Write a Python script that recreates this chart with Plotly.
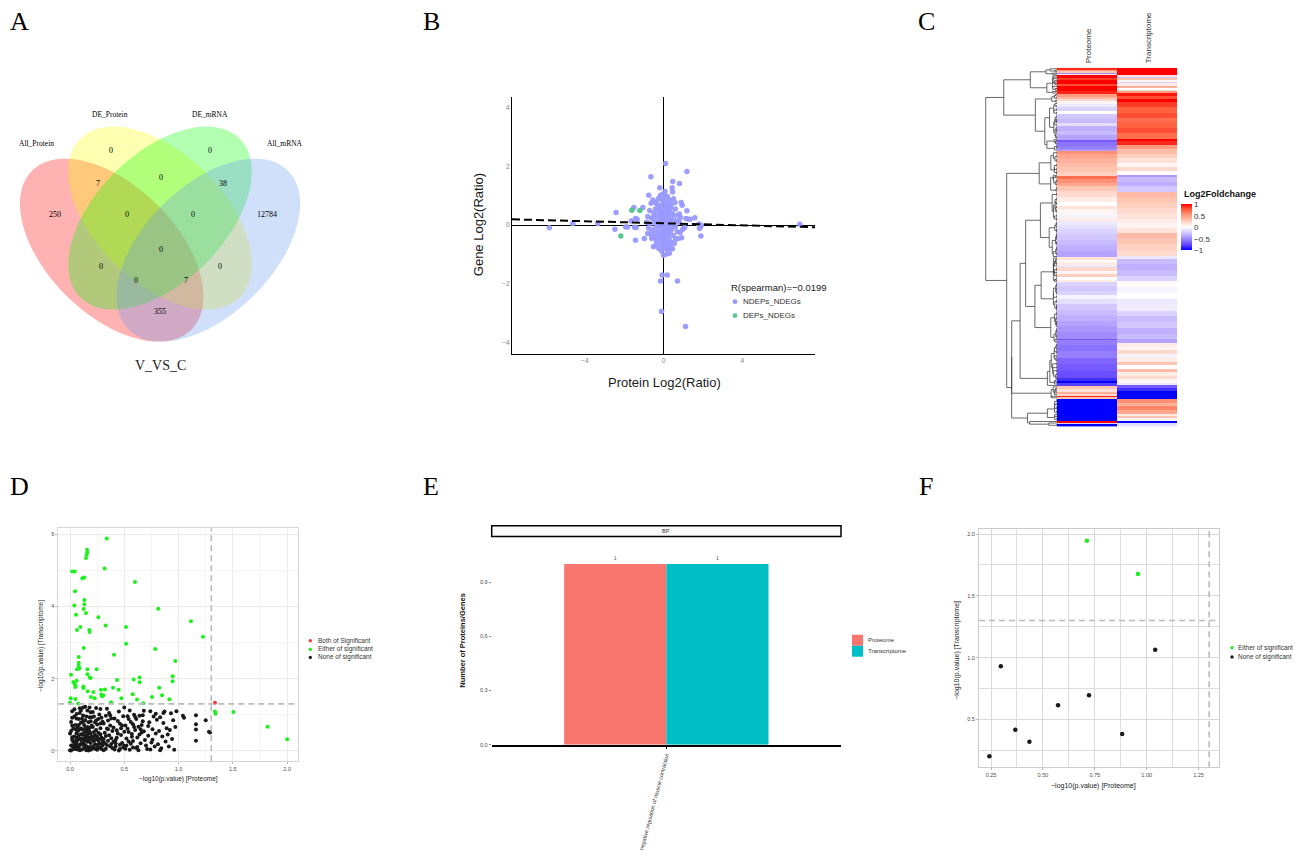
import numpy as np
import plotly.graph_objects as go

W, H = 1300, 861
SANS = "Liberation Sans, Arial, sans-serif"
SERIF = "Liberation Serif, Times New Roman, serif"


def PX(x):
    return x / W


def PY(y):
    return 1 - y / H


# ======================= DATA =======================
# ---- Panel A : Venn ----
venn_set_names = ["All_Protein", "DE_Protein", "DE_mRNA", "All_mRNA"]
venn_region_keys = ["P", "dP", "dM", "M", "P_dP", "dP_dM", "dM_M", "P_dP_dM", "dP_dM_M",
                    "P_dP_dM_M", "P_dM", "dP_M", "P_dM_M", "P_dP_M", "P_M"]
venn_region_counts = [250, 0, 0, 12784, 7, 0, 38, 0, 0, 0, 0, 0, 0, 7, 355]
venn_title = "V_VS_C"

# ---- Panel B : protein vs gene log2 ratio ----
b_ndep_points = [
    (0.10, 2.10), (1.19, 1.83), (-0.64, 1.65), (0.47, 1.49), (0.81, 1.42), (-0.19, 1.27), (0.44, 1.27),
    (0.46, 1.13), (-0.75, 1.02), (-0.15, 1.02), (-0.20, 0.94), (-0.54, 0.86), (-0.44, 0.79), (-0.63, 0.75),
    (0.51, 0.90), (0.58, 0.77), (0.90, 0.77), (0.95, 0.68), (-1.51, 0.60), (-1.05, 0.60), (-2.41, 0.43),
    (1.19, 0.49), (1.59, 0.25), (1.14, 0.23), (1.22, 0.21), (0.81, 0.38), (0.86, 0.26), (1.80, 0.03),
    (1.92, 0.00), (-1.42, 0.23), (-1.34, 0.20), (-1.64, 0.14), (-1.83, -0.06), (-1.92, -0.06), (-2.47, -0.14),
    (-1.47, -0.07), (-1.39, -0.08), (1.83, -0.11), (1.90, -0.37), (0.98, -0.14), (1.08, -0.08), (0.92, -0.43),
    (0.75, -0.45), (-0.97, -0.45), (-1.42, -0.51), (-0.56, -0.39), (-0.46, -0.42), (0.29, -0.59), (0.36, -0.76),
    (-0.51, -0.73), (-0.24, -0.79), (0.24, -0.86), (0.17, -0.98), (0.00, -1.02), (-0.07, -1.69), (0.19, -1.69),
    (-5.80, -0.09), (-4.61, 0.06), (-3.34, 0.06), (-0.15, -1.90), (0.71, -1.90), (-0.10, -2.93), (1.12, -3.44),
    (6.93, 0.03), (1.88, -0.06), (1.81, 0.03), (1.35, 0.20),
    (-0.05, 0.85), (0.05, 0.80), (0.15, 0.72), (-0.12, 0.68), (0.25, 0.65), (-0.30, 0.62), (0.35, 0.58),
    (-0.40, 0.55), (0.02, 0.55), (0.12, 0.50), (-0.22, 0.48), (0.30, 0.45), (-0.50, 0.42), (0.45, 0.40),
    (-0.08, 0.40), (0.18, 0.36), (-0.35, 0.34), (0.55, 0.32), (0.08, 0.30), (-0.15, 0.28), (0.28, 0.25),
    (-0.60, 0.24), (0.40, 0.20), (-0.02, 0.20), (-0.28, 0.17), (0.65, 0.15), (0.15, 0.14), (-0.45, 0.10),
    (0.50, 0.08), (-0.10, 0.08), (0.22, 0.05), (-0.70, 0.04), (0.35, 0.00), (-0.20, -0.02), (0.05, -0.03),
    (0.60, -0.05), (-0.38, -0.06), (0.12, -0.10), (-0.05, -0.12), (0.42, -0.14), (-0.55, -0.16), (0.25, -0.18),
    (-0.25, -0.20), (0.70, -0.22), (0.02, -0.24), (-0.42, -0.26), (0.35, -0.28), (-0.12, -0.30), (0.15, -0.33),
    (-0.65, -0.30), (0.50, -0.36), (-0.30, -0.38), (0.05, -0.40), (0.28, -0.44), (-0.18, -0.46), (0.62, -0.48),
    (-0.05, -0.52), (0.18, -0.55), (-0.35, -0.55), (0.40, -0.58), (0.08, -0.62), (-0.15, -0.65), (0.25, -0.68),
    (-0.02, -0.72), (0.12, -0.80), (-0.10, -0.88), (0.10, 0.95), (-0.02, 1.05), (0.08, 1.15), (-0.25, 0.90),
    (0.30, 0.85), (0.20, 0.98), (-0.35, 0.75), (0.40, 0.70), (-0.70, 0.50), (0.60, 0.55), (-0.80, 0.30),
    (0.75, 0.35), (-0.85, 0.10), (0.80, 0.10), (-0.75, -0.10), (0.85, -0.25), (-0.80, -0.28), (-0.60, -0.45),
    (0.55, -0.62), (-0.40, -0.70), (0.45, -0.80), (0.30, -0.95), (-0.20, 0.58), (0.00, 0.35), (-0.32, 0.05),
    (0.10, 0.60), (-0.12, 0.15), (0.32, 0.12), (-0.08, -0.35), (0.20, -0.25), (-0.48, 0.28), (0.38, -0.05),
    (0.00, 0.00), (-0.18, 0.38), (0.22, 0.42), (0.03, -0.58),
]
b_dep_points = [(-1.61, 0.51), (-1.20, 0.50), (-2.17, -0.37)]
b_fit_intercept = 0.065
b_fit_slope = -0.0175
b_spearman_text = "R(spearman)=\u22120.0199"
b_series_names = ["NDEPs_NDEGs", "DEPs_NDEGs"]

# ---- Panel C : heatmap run-lengths (rows, log2FC) in clustered order ----
c_columns = ["Proteome", "Transcriptome"]
c_proteome_runs = [
    (2, 0.9), (1, 0.5), (2, 0.3), (1, -0.5), (1, 0.1),
    (3, 1.0), (2, 0.85), (4, 1.0), (2, 0.8), (5, 1.0), (3, 0.9),
    (3, 0.5), (3, 0.35), (2, 0.2),
    (3, 0.05), (3, -0.1), (4, -0.2), (3, 0.0), (5, -0.25), (4, -0.3), (3, -0.15), (5, -0.35), (4, -0.3), (5, -0.4),
    (2, -0.7), (4, -0.6), (3, -0.55), (2, -0.45),
    (3, 0.55), (4, 0.45), (5, 0.4), (4, 0.35), (5, 0.3), (4, 0.25),
    (3, 0.7), (4, 0.55), (3, 0.45),
    (5, 0.3), (6, 0.2), (5, 0.1), (4, 0.0), (3, 0.15), (5, 0.05), (4, -0.05), (4, 0.1), (4, -0.1),
    (4, -0.15), (5, -0.2), (6, -0.25), (5, -0.3), (6, -0.35), (6, -0.4),
    (3, 0.15), (2, 0.0), (3, 0.1), (2, -0.1), (4, 0.2), (3, 0.05), (3, 0.25), (3, 0.0), (2, 0.1),
    (4, -0.2), (5, -0.25), (4, -0.2),
    (4, -0.05), (5, -0.15), (6, -0.25), (5, -0.3), (6, -0.35), (5, -0.4), (6, -0.45), (7, -0.5),
    (2, -0.7), (5, -0.55), (6, -0.6), (7, -0.55), (6, -0.65), (7, -0.7), (7, -0.75),
    (3, -0.85), (2, -1.0), (3, -0.8),
    (3, 0.3), (3, 0.15), (2, 0.4), (2, 0.2), (1, 0.9), (2, 0.3),
    (22, -1.0), (2, 1.0), (1, -0.2), (3, -1.0),
]
c_transcriptome_runs = [
    (7, 1.0),
    (2, 0.15), (1, -0.25), (2, 0.3), (2, 0.05), (1, -0.2), (3, 0.1), (2, 0.4), (2, 0.0), (1, 0.2), (2, 0.5),
    (3, 0.95), (4, 0.8), (3, 1.0), (5, 0.85), (6, 0.75), (5, 0.8), (4, 0.7), (6, 0.75), (5, 0.8), (6, 0.7),
    (2, 1.0), (4, 0.9),
    (4, 0.5), (5, 0.35), (4, 0.25), (5, 0.15), (4, 0.05), (4, 0.2), (4, 0.0),
    (2, -0.45), (5, -0.3), (4, -0.35), (6, -0.25),
    (5, 0.35), (6, 0.3), (5, 0.25), (6, 0.2), (5, 0.15), (5, 0.1), (5, 0.05), (5, 0.15),
    (5, 0.35), (6, 0.3), (6, 0.25), (6, 0.2),
    (3, -0.1), (5, -0.3), (6, -0.35), (6, -0.3), (5, -0.2),
    (6, 0.02), (6, -0.05), (6, 0.0), (6, -0.1), (6, -0.08),
    (5, -0.2), (6, -0.3), (6, -0.25), (6, -0.35), (6, -0.3), (4, -0.4),
    (4, 0.1), (3, 0.05), (4, 0.2), (3, -0.05), (5, 0.1), (3, 0.3), (4, 0.0), (3, 0.35), (4, 0.1), (3, 0.2),
    (4, 0.05), (2, -0.1),
    (3, -0.7), (3, -0.85), (8, -1.0),
    (4, 0.55), (3, 0.4), (4, 0.6), (4, 0.45),
    (2, 0.1), (2, 0.3), (3, 0.05),
    (2, -1.0), (4, -0.15),
]
c_legend_title = "Log2Foldchange"

# ---- Panel D : -log10 p values ----
d_both_points = [(1.335, 1.33)]
d_either_points = [
    (0.338, 5.88), (0.157, 5.57), (0.160, 5.50), (0.153, 5.43), (0.147, 5.34), (0.021, 4.97), (0.043, 4.97),
    (0.319, 5.05), (0.113, 4.78), (0.132, 4.80), (0.598, 4.68), (0.046, 4.42), (0.132, 4.18), (0.132, 4.06),
    (0.126, 3.93), (0.040, 4.03), (0.055, 3.77), (0.147, 3.82), (0.813, 3.94), (0.261, 3.70), (1.114, 3.59),
    (0.328, 3.47), (0.516, 3.43), (0.095, 3.43), (0.064, 3.35), (0.178, 3.35), (0.181, 3.29), (1.225, 3.16),
    (0.126, 2.85), (0.516, 2.97), (0.785, 2.82), (0.405, 2.66), (0.080, 2.60), (0.970, 2.49), (0.080, 2.44),
    (0.080, 2.36), (0.064, 2.26), (0.086, 2.28), (0.160, 2.26), (0.245, 2.26), (0.009, 2.11), (0.160, 2.12),
    (0.181, 2.03), (0.190, 2.02), (0.061, 1.94), (0.031, 1.91), (0.043, 1.85), (0.052, 1.80), (0.049, 1.77),
    (0.945, 2.07), (0.945, 1.93), (0.586, 1.98), (0.641, 2.03), (0.641, 1.90), (0.433, 1.96), (0.123, 1.78),
    (0.123, 1.74), (0.822, 1.75), (0.215, 1.63), (0.396, 1.75), (0.448, 1.69), (0.285, 1.69), (0.322, 1.70),
    (0.163, 1.65), (0.288, 1.56), (0.307, 1.54), (0.295, 1.51), (0.577, 1.57), (0.755, 1.49), (0.847, 1.54),
    (0.915, 1.43), (0.617, 1.42), (0.473, 1.46), (0.006, 1.46), (0.049, 1.44), (0.193, 1.49), (0.227, 1.46),
    (0.377, 1.35), (0.675, 1.32), (0.000, 1.33), (0.074, 1.31),
    (1.335, 1.09), (1.340, 1.03), (1.504, 1.08), (1.820, 0.67), (2.000, 0.32),
]
d_none_points = [
    (0.00, 0.02), (0.01, 0.15), (0.02, 0.31), (0.00, 0.48), (0.03, 0.62), (0.01, 0.80), (0.04, 0.95), (0.02, 1.10),
    (0.05, 0.05), (0.06, 0.22), (0.04, 0.40), (0.07, 0.55), (0.05, 0.72), (0.08, 0.88), (0.06, 1.02), (0.09, 1.18),
    (0.08, 0.10), (0.09, 0.33), (0.10, 0.46), (0.07, 0.66), (0.03, 0.25), (0.05, 0.12), (0.02, 0.70), (0.09, 0.02),
    (0.10, 0.78), (0.06, 0.36), (0.08, 0.58), (0.03, 0.05), (0.04, 0.18), (0.07, 0.30), (0.01, 0.55), (0.10, 0.20),
    (0.06, 0.90), (0.09, 1.05), (0.02, 0.92), (0.08, 0.42), (0.05, 0.60), (0.10, 0.62), (0.04, 0.08), (0.07, 0.14),
    (0.11, 0.04), (0.12, 0.17), (0.13, 0.29), (0.14, 0.41), (0.15, 0.53), (0.16, 0.66), (0.17, 0.79), (0.18, 0.93),
    (0.19, 1.07), (0.12, 1.20), (0.11, 0.60), (0.13, 0.72), (0.15, 0.02), (0.16, 0.25), (0.17, 0.38), (0.18, 0.11),
    (0.19, 0.48), (0.20, 0.70), (0.14, 0.85), (0.12, 0.98), (0.16, 1.12), (0.19, 0.22), (0.11, 0.35), (0.13, 0.08),
    (0.15, 0.30), (0.17, 0.58), (0.18, 0.33), (0.20, 0.05), (0.14, 0.14), (0.12, 0.46), (0.16, 0.45), (0.19, 0.82),
    (0.13, 0.52), (0.18, 0.64), (0.15, 0.95), (0.11, 0.89), (0.17, 0.01), (0.20, 0.40), (0.14, 0.63), (0.16, 0.09),
    (0.21, 0.12), (0.22, 0.27), (0.23, 0.44), (0.24, 0.58), (0.25, 0.73), (0.26, 0.88), (0.27, 1.01), (0.28, 1.16),
    (0.29, 0.05), (0.21, 0.66), (0.22, 0.95), (0.23, 0.18), (0.24, 0.32), (0.25, 0.03), (0.26, 0.50), (0.27, 0.21),
    (0.28, 0.63), (0.29, 0.37), (0.30, 0.81), (0.21, 1.08), (0.23, 0.79), (0.25, 0.40), (0.27, 0.10), (0.29, 0.92),
    (0.22, 0.52), (0.24, 1.19), (0.26, 0.29), (0.28, 0.46), (0.30, 0.15), (0.24, 0.07),
    (0.31, 0.02), (0.32, 0.22), (0.33, 0.41), (0.34, 0.62), (0.35, 0.84), (0.36, 1.05), (0.37, 0.13), (0.38, 0.35),
    (0.39, 0.55), (0.31, 0.76), (0.33, 0.97), (0.35, 0.28), (0.37, 0.70), (0.39, 0.08), (0.32, 0.50), (0.34, 1.17),
    (0.36, 0.43), (0.38, 0.90), (0.40, 0.25), (0.33, 0.06), (0.35, 0.60), (0.37, 0.99), (0.40, 0.65), (0.31, 0.33),
    (0.41, 0.04), (0.42, 0.30), (0.43, 0.57), (0.44, 0.83), (0.45, 1.09), (0.46, 0.17), (0.47, 0.44), (0.48, 0.70),
    (0.49, 0.96), (0.42, 0.12), (0.44, 0.48), (0.46, 0.75), (0.48, 0.22), (0.50, 0.53), (0.41, 0.90), (0.43, 0.36),
    (0.45, 0.01), (0.47, 0.63), (0.49, 0.09), (0.50, 1.20),
    (0.51, 0.06), (0.52, 0.34), (0.53, 0.61), (0.54, 0.88), (0.55, 1.12), (0.56, 0.20), (0.57, 0.47), (0.58, 0.74),
    (0.59, 1.00), (0.52, 0.15), (0.54, 0.52), (0.56, 0.80), (0.58, 0.27), (0.60, 0.58), (0.53, 0.96), (0.55, 0.03),
    (0.57, 0.39), (0.59, 0.66), (0.60, 0.94), (0.51, 0.70),
    (0.61, 0.08), (0.62, 0.37), (0.63, 0.67), (0.64, 0.97), (0.65, 0.21), (0.66, 0.51), (0.67, 0.82), (0.68, 1.11),
    (0.62, 0.11), (0.64, 0.45), (0.66, 0.72), (0.69, 0.30), (0.61, 0.88), (0.63, 0.02), (0.65, 0.60), (0.67, 0.99),
    (0.70, 0.15), (0.68, 0.54),
    (0.71, 0.05), (0.72, 0.42), (0.73, 0.79), (0.74, 1.10), (0.75, 0.23), (0.76, 0.60), (0.77, 0.95), (0.78, 0.12),
    (0.79, 0.48), (0.80, 0.86), (0.72, 0.69), (0.76, 0.31), (0.79, 1.03), (0.74, 0.04),
    (0.81, 0.18), (0.82, 0.55), (0.83, 0.93), (0.84, 0.07), (0.85, 0.40), (0.86, 0.77), (0.87, 1.09), (0.88, 0.26),
    (0.89, 0.63), (0.83, 0.02), (0.86, 1.05), (0.90, 0.45),
    (0.91, 0.12), (0.92, 0.58), (0.93, 1.04), (0.95, 0.85), (0.97, 0.66), (0.98, 1.10), (0.94, 0.33), (0.96, 0.03),
    (1.04, 0.97), (1.05, 0.92), (1.16, 0.99), (1.16, 0.74), (1.16, 0.59), (1.16, 0.28), (1.25, 0.85), (1.28, 0.53),
    (1.29, 0.51),
    (0.01, 0.01), (0.03, 0.11), (0.05, 0.27), (0.07, 0.04), (0.09, 0.16), (0.11, 0.24), (0.13, 0.19), (0.15, 0.13),
    (0.17, 0.27), (0.19, 0.03), (0.21, 0.31), (0.23, 0.06), (0.25, 0.16), (0.27, 0.33), (0.29, 0.19), (0.02, 0.38),
    (0.06, 0.49), (0.10, 0.32), (0.14, 0.37), (0.18, 0.53), (0.22, 0.40), (0.26, 0.08), (0.30, 0.28), (0.34, 0.16),
    (0.38, 0.19), (0.42, 0.21), (0.46, 0.05), (0.50, 0.14), (0.54, 0.26), (0.58, 0.09), (0.08, 0.72), (0.12, 0.81),
    (0.16, 0.57), (0.20, 0.93), (0.24, 0.84), (0.28, 0.76), (0.04, 1.15), (0.10, 1.12), (0.14, 1.22), (0.18, 1.20),
]
d_legend_names = ["Both of Significant", "Either of significant", "None of significant"]
sig_threshold = 1.30103  # -log10(0.05)

# ---- Panel E : GO bar ----
e_ontology = "BP"
e_term = "negative regulation of muscle contraction"
e_series = ["Proteome", "Transcriptome"]
e_values = [1, 1]

# ---- Panel F ----
f_either_x = [0.712, 0.958]
f_either_y = [1.946, 1.677]
f_none_x = [0.297, 0.367, 0.435, 0.242, 0.573, 0.722, 0.882, 1.041]
f_none_y = [0.930, 0.417, 0.320, 0.202, 0.616, 0.696, 0.382, 1.065]
f_legend_names = ["Either of significant", "None of significant"]

x_title_p = "\u2212log10(p.value) [Proteome]"
y_title_t = "\u2212log10(p.value) [Transcriptome]"

# ======================= FIGURE =======================
fig = go.Figure()
shapes = []
annotations = []


def ann(text, x, y, size, color="#1a1a1a", xanchor="center", yanchor="middle",
        family=SANS, angle=0):
    annotations.append(dict(text=text, x=PX(x), y=PY(y), xref="paper", yref="paper",
                            showarrow=False, xanchor=xanchor, yanchor=yanchor,
                            textangle=angle, font=dict(size=size, color=color, family=family)))


def dot(x, y, r, color):
    shapes.append(dict(type="circle", xref="paper", yref="paper", x0=PX(x - r), x1=PX(x + r),
                       y0=PY(y + r), y1=PY(y - r), fillcolor=color, line=dict(width=0)))


# ---- panel letters ----
for letter, (lx, ly) in zip("ABCDEF", [(19, 22), (431, 22), (926, 22), (19, 488), (431, 488), (926, 488)]):
    ann(letter, lx, ly, 26, color="black", family=SERIF)

# ---- Panel A : Venn ellipses (pixel geometry) ----
S = 322.0
va, vb = 0.35 * S, 0.2 * S
venn_geom = [  # center x, center y, screen-angle, colour
    (160 - 0.15 * S, 251, 45, "red"),
    (160, 251 - 0.1 * S, 45, "yellow"),
    (160, 251 - 0.1 * S, -45, "#00FF00"),
    (160 + 0.15 * S, 251, -45, "cornflowerblue"),
]
tt = np.linspace(0, 2 * np.pi, 121)
for cx, cy, ang, col in venn_geom:
    th = np.deg2rad(ang)
    ex = cx + va * np.cos(tt) * np.cos(th) - vb * np.sin(tt) * np.sin(th)
    ey = cy + va * np.cos(tt) * np.sin(th) + vb * np.sin(tt) * np.cos(th)
    path = "M " + " L ".join(f"{PX(a):.5f},{PY(b):.5f}" for a, b in zip(ex, ey)) + " Z"
    shapes.append(dict(type="path", xref="paper", yref="paper", path=path,
                       fillcolor=col, opacity=0.3, line=dict(width=0), layer="below"))

venn_label_pos = {"All_Protein": (36, 144), "DE_Protein": (110, 115), "DE_mRNA": (210, 115), "All_mRNA": (285, 144)}
for nm in venn_set_names:
    ann(nm, *venn_label_pos[nm], 7.5, color="black", family=SERIF)
venn_count_pos = {"P": (55, 215), "dP": (111, 151), "dM": (210, 151), "M": (267, 215), "P_dP": (98, 184),
                  "dP_dM": (161, 178), "dM_M": (223, 184), "P_dP_dM": (127, 215), "dP_dM_M": (193, 215),
                  "P_dP_dM_M": (161, 250), "P_dM": (101, 267), "dP_M": (220, 267), "P_dM_M": (136, 281),
                  "P_dP_M": (186, 281), "P_M": (160, 313)}
for key, cnt in zip(venn_region_keys, venn_region_counts):
    ann(str(cnt), *venn_count_pos[key], 8, color="black", family=SERIF)
ann(venn_title, 160, 367, 14, color="#222", family=SERIF)

# ---- Panel B ----
B_XR = [-7.7, 7.7]
bx, by = zip(*b_ndep_points)
gx, gy = zip(*b_dep_points)
fig.add_trace(go.Scatter(x=bx, y=by, mode="markers", xaxis="x", yaxis="y",
                         marker=dict(size=5.5, color="#9999FF", opacity=0.95, line=dict(width=0)),
                         showlegend=False, hoverinfo="skip"))
fig.add_trace(go.Scatter(x=gx, y=gy, mode="markers", xaxis="x", yaxis="y",
                         marker=dict(size=5.5, color="#5CC48E", line=dict(width=0)),
                         showlegend=False, hoverinfo="skip"))
fx = np.array(B_XR)
fig.add_trace(go.Scatter(x=fx, y=b_fit_intercept + b_fit_slope * fx, mode="lines", xaxis="x", yaxis="y",
                         line=dict(color="black", width=2, dash="8px,4px"), showlegend=False, hoverinfo="skip"))
ann("Protein Log2(Ratio)", 664, 384, 13)
ann("Gene Log2(Ratio)", 478, 226, 13, angle=-90)
ann(b_spearman_text, 729, 289, 9.5, xanchor="left")
dot(735, 302.7, 2.4, "#9999FF")
dot(735, 316.7, 2.4, "#5CC48E")
ann(b_series_names[0], 741, 302.7, 8, xanchor="left", color="#333")
ann(b_series_names[1], 741, 316.7, 8, xanchor="left", color="#333")

# ---- Panel C : heatmap + dendrogram ----
prot = np.concatenate([np.full(n, v) for n, v in c_proteome_runs])
trans = np.concatenate([np.full(n, v) for n, v in c_transcriptome_runs])
N = min(len(prot), len(trans))
prot, trans = prot[:N], trans[:N]
Z = np.column_stack([prot, trans])
cscale = [[0.0, "#0000FF"], [0.125, "#6A4DFF"], [0.25, "#A08CFF"], [0.375, "#D2C8FF"], [0.5, "#FFFFFF"],
          [0.625, "#FFCFC0"], [0.75, "#FF9C80"], [0.875, "#FF6240"], [1.0, "#FF0000"]]
fig.add_trace(go.Heatmap(z=Z, x=[0, 1], y=np.arange(N), xaxis="x5", yaxis="y5", zmin=-1, zmax=1,
                         colorscale=cscale, hoverinfo="skip",
                         colorbar=dict(x=PX(1181), xanchor="left", y=PY(205), yanchor="top",
                                       lenmode="pixels", len=46, thickness=11, outlinewidth=0,
                                       tickvals=[1, 0.5, 0, -0.5, -1],
                                       ticktext=["1", "0.5", "0", "\u22120.5", "\u22121"],
                                       tickfont=dict(size=8, color="#333", family=SANS), ticks="", xpad=0, ypad=0)))
ann("<b>" + c_legend_title + "</b>", 1182, 195, 9, xanchor="left", color="#111")
ann(c_columns[0], 1088, 66, 8, yanchor="bottom", angle=-90, color="#333")
ann(c_columns[1], 1148, 66, 8, yanchor="bottom", angle=-90, color="#333")

# adjacency-constrained Ward clustering of the displayed rows -> dendrogram
clusters = [[1, Z[i].astype(float), float(i), 0.0] for i in range(N)]
dxs, dys = [], []
while len(clusters) > 1:
    best_k, best_c = 0, None
    for k in range(len(clusters) - 1):
        n1, m1 = clusters[k][0], clusters[k][1]
        n2, m2 = clusters[k + 1][0], clusters[k + 1][1]
        d = m1 - m2
        c = n1 * n2 / (n1 + n2) * float(d @ d)
        if best_c is None or c < best_c:
            best_c, best_k = c, k
    n1, m1, p1, h1 = clusters[best_k]
    n2, m2, p2, h2 = clusters[best_k + 1]
    h = max(np.sqrt(2 * best_c), h1, h2) + 0.004
    dxs += [h1, h, h, h2, None]
    dys += [p1, p1, p2, p2, None]
    clusters[best_k] = [n1 + n2, (n1 * m1 + n2 * m2) / (n1 + n2), (p1 + p2) / 2, h]
    del clusters[best_k + 1]
hroot = clusters[0][3]
fig.add_trace(go.Scatter(x=dxs, y=dys, mode="lines", xaxis="x6", yaxis="y5",
                         line=dict(color="#444", width=0.8), showlegend=False, hoverinfo="skip"))

# ---- Panel D ----
for pts, col in [(d_none_points, "#1A1A1A"), (d_either_points, "#1EF01E"), (d_both_points, "#FF3333")]:
    px_, py_ = zip(*pts)
    fig.add_trace(go.Scatter(x=px_, y=py_, mode="markers", xaxis="x2", yaxis="y2",
                             marker=dict(size=4, color=col, line=dict(width=0)),
                             showlegend=False, hoverinfo="skip"))
shapes.append(dict(type="line", xref="x2", yref="y2 domain", x0=sig_threshold, x1=sig_threshold, y0=0, y1=1,
                   line=dict(color="#BBBBBB", width=1.6, dash="6px,4px")))
shapes.append(dict(type="line", xref="x2 domain", yref="y2", x0=0, x1=1, y0=sig_threshold, y1=sig_threshold,
                   line=dict(color="#BBBBBB", width=1.6, dash="6px,4px")))
ann(x_title_p, 178, 782, 6.5, color="#222")
ann(y_title_t, 41, 648, 6.5, color="#222", angle=-90)
for (yy, col), nm in zip([(643, "#FF3333"), (651.7, "#1EF01E"), (659.7, "#1A1A1A")], d_legend_names):
    dot(310.3, yy, 1.7, col)
    ann(nm, 316, yy, 6.5, xanchor="left", color="#333")

# ---- Panel E ----
for nm, val, col in zip(e_series, e_values, ["#F8766D", "#00BFC4"]):
    fig.add_trace(go.Bar(x=[e_term], y=[val], name=nm, xaxis="x3", yaxis="y3", marker=dict(color=col, line=dict(width=0)),
                         text=[str(val)], textposition="outside", textfont=dict(size=5, color="#555"),
                         cliponaxis=False, showlegend=False, hoverinfo="skip"))
shapes.append(dict(type="rect", xref="paper", yref="paper", x0=PX(491.7), x1=PX(841), y0=PY(538.3), y1=PY(527.7),
                   fillcolor="#FAFAFA", line=dict(color="black", width=1.5)))
ann(e_ontology, 666, 533, 5.5, color="#333")
ann("<b>Number of Proteins/Genes</b>", 463, 643, 7.5, color="#111", angle=-90)
for (yy, col), nm in zip([(637, "#F8766D"), (648, "#00BFC4")], e_series):
    shapes.append(dict(type="rect", xref="paper", yref="paper", x0=PX(852), x1=PX(863), y0=PY(yy + 11), y1=PY(yy),
                       fillcolor=col, line=dict(width=0)))
    ann(nm, 866, yy + 5.5, 6, xanchor="left", color="#333")

# ---- Panel F ----
fig.add_trace(go.Scatter(x=f_none_x, y=f_none_y, mode="markers", xaxis="x4", yaxis="y4",
                         marker=dict(size=4.5, color="#1A1A1A"), showlegend=False, hoverinfo="skip"))
fig.add_trace(go.Scatter(x=f_either_x, y=f_either_y, mode="markers", xaxis="x4", yaxis="y4",
                         marker=dict(size=4.5, color="#1EF01E"), showlegend=False, hoverinfo="skip"))
shapes.append(dict(type="line", xref="x4", yref="y4 domain", x0=sig_threshold, x1=sig_threshold, y0=0, y1=1,
                   line=dict(color="#BBBBBB", width=1.6, dash="6px,4px")))
shapes.append(dict(type="line", xref="x4 domain", yref="y4", x0=0, x1=1, y0=sig_threshold, y1=sig_threshold,
                   line=dict(color="#BBBBBB", width=1.6, dash="6px,4px")))
ann(x_title_p, 1093, 789, 7, color="#222")
ann(y_title_t, 957, 653, 7, color="#222", angle=-90)
for (yy, col), nm in zip([(650, "#1EF01E"), (659.3, "#1A1A1A")], f_legend_names):
    dot(1232, yy, 1.7, col)
    ann(nm, 1236, yy, 6.5, xanchor="left", color="#333")

# ======================= AXES =======================
tick_small = dict(size=5.5, color="#4D4D4D", family=SANS)
layout_axes = dict(
    # Panel B
    xaxis=dict(domain=[PX(512), PX(815)], range=B_XR, anchor="y", showline=True, linecolor="black", linewidth=1,
               zeroline=True, zerolinecolor="black", zerolinewidth=1.2, showgrid=False,
               tickvals=[-4, 0, 4], ticktext=["\u22124", "0", "4"], ticks="",
               tickfont=dict(size=6.5, color="#7F7F7F", family=SANS)),
    yaxis=dict(domain=[PY(355), PY(97)], range=[-4.37, 4.37], anchor="x", showline=True, linecolor="black",
               linewidth=1, zeroline=True, zerolinecolor="black", zerolinewidth=1.2, showgrid=False,
               tickvals=[-4, -2, 0, 2, 4], ticktext=["\u22124", "\u22122", "0", "2", "4"], ticks="",
               tickfont=dict(size=6.5, color="#7F7F7F", family=SANS)),
    # Panel D
    xaxis2=dict(domain=[PX(58.3), PX(298)], range=[-0.108, 2.10], anchor="y2", showline=True, mirror=True,
                linecolor="#D6D6D6", linewidth=1, gridcolor="#EBEBEB", gridwidth=1, zeroline=False,
                dtick=0.5, tick0=0, tickformat=".1f", ticks="outside", ticklen=2, tickcolor="#BBBBBB",
                minor=dict(dtick=0.25, showgrid=True, gridcolor="#F5F5F5", ticks=""), tickfont=tick_small),
    yaxis2=dict(domain=[PY(764), PY(530)], range=[-0.29, 6.17], anchor="x2", showline=True, mirror=True,
                linecolor="#D6D6D6", linewidth=1, gridcolor="#EBEBEB", gridwidth=1, zeroline=False,
                dtick=2, tick0=0, ticks="outside", ticklen=2, tickcolor="#BBBBBB",
                minor=dict(dtick=1, showgrid=True, gridcolor="#F5F5F5", ticks=""), tickfont=tick_small),
    # Panel E
    xaxis3=dict(domain=[PX(491.7), PX(841)], anchor="y3", type="category", range=[-0.5, 0.5], showline=True,
                linecolor="black", linewidth=1.5, ticks="outside", ticklen=3, tickcolor="black", tickangle=-75,
                tickfont=dict(size=5.5, color="#333", family=SANS), showgrid=False, zeroline=False),
    yaxis3=dict(domain=[PY(747.3), PY(538.3)], anchor="x3", range=[0, 1.153], showline=False, showgrid=False,
                zeroline=False, tickvals=[0, 0.3, 0.6, 0.9], ticktext=["0.0", "0.3", "0.6", "0.9"],
                ticks="outside", ticklen=2, tickcolor="#888", tickfont=tick_small),
    # Panel F
    xaxis4=dict(domain=[PX(979), PX(1219.3)], range=[0.192, 1.35], anchor="y4", showline=True, mirror=True,
                linecolor="#CCCCCC", linewidth=1, gridcolor="#D9D9D9", gridwidth=1, zeroline=False,
                dtick=0.25, tick0=0, tickformat=".2f", ticks="outside", ticklen=2, tickcolor="#BBBBBB",
                minor=dict(dtick=0.125, showgrid=True, gridcolor="#DEDEDE", ticks=""), tickfont=tick_small),
    yaxis4=dict(domain=[PY(770), PY(531)], range=[0.113, 2.04], anchor="x4", showline=True, mirror=True,
                linecolor="#CCCCCC", linewidth=1, gridcolor="#D9D9D9", gridwidth=1, zeroline=False,
                dtick=0.5, tick0=0, tickformat=".1f", ticks="outside", ticklen=2, tickcolor="#BBBBBB",
                minor=dict(dtick=0.25, showgrid=True, gridcolor="#DEDEDE", ticks=""), tickfont=tick_small),
    # Panel C heatmap + dendrogram
    xaxis5=dict(domain=[PX(1057), PX(1177)], range=[-0.5, 1.5], anchor="y5", visible=False),
    yaxis5=dict(domain=[PY(428), PY(68)], range=[N - 0.5, -0.5], anchor="x5", visible=False),
    xaxis6=dict(domain=[PX(985), PX(1057)], range=[hroot * 1.01, 0], anchor="y5", visible=False),
)

fig.update_layout(
    width=W, height=H, margin=dict(l=0, r=0, t=0, b=0), autosize=False,
    paper_bgcolor="white", plot_bgcolor="white",
    font=dict(family=SANS, color="#222"),
    barmode="group", bargap=0.415, bargroupgap=0,
    shapes=shapes, annotations=annotations, showlegend=False,
    **layout_axes,
)

post_js = (
    "document.documentElement.style.margin='0';document.documentElement.style.overflow='hidden';"
    "document.body.style.margin='0';document.body.style.padding='0';document.body.style.overflow='hidden';"
    "document.querySelectorAll('.plotly-graph-div, .svg-container').forEach(function(d){"
    "d.style.overflow='hidden';});"
)
fig.write_html("out.html", config={"displayModeBar": False, "responsive": False}, post_script=post_js)
